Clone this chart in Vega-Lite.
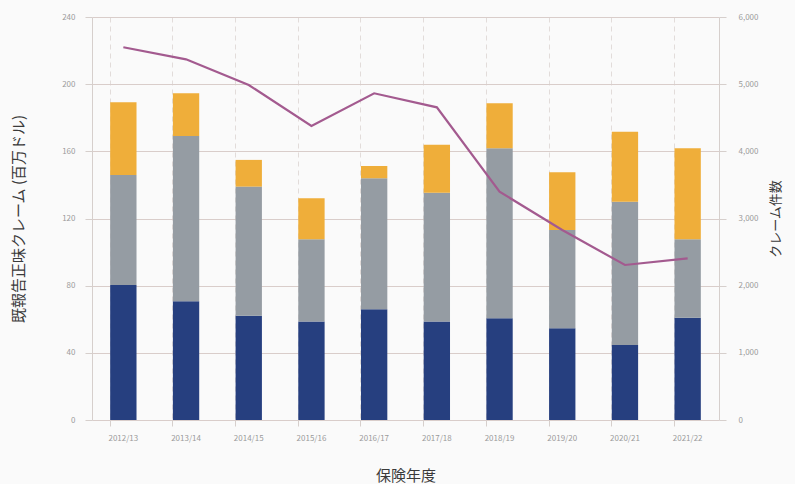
{
  "$schema": "https://vega.github.io/schema/vega-lite/v6.json",
  "autosize": {"type": "none"},
  "width": 627,
  "height": 403,
  "padding": {"left": 92, "top": 17, "right": 76, "bottom": 64},
  "background": "#fafafa",
  "config": {
    "font": "Noto Sans CJK JP",
    "view": {"stroke": null},
    "axis": {"labelColor": "#9a9a9a", "labelFontSize": 8, "titleColor": "#3a3a3a", "titleFontSize": 13, "titleFontWeight": "normal", "domainColor": "#d6cfcc", "tickColor": "#d6cfcc"}
  },
  "datasets": {
    "bars": [
      {"year": "2012/13", "segment": "区分A", "value": 80.4},
      {"year": "2012/13", "segment": "区分B", "value": 65.5},
      {"year": "2012/13", "segment": "区分C", "value": 43.3},
      {"year": "2013/14", "segment": "区分A", "value": 70.7},
      {"year": "2013/14", "segment": "区分B", "value": 98.5},
      {"year": "2013/14", "segment": "区分C", "value": 25.4},
      {"year": "2014/15", "segment": "区分A", "value": 62.1},
      {"year": "2014/15", "segment": "区分B", "value": 76.9},
      {"year": "2014/15", "segment": "区分C", "value": 15.9},
      {"year": "2015/16", "segment": "区分A", "value": 58.6},
      {"year": "2015/16", "segment": "区分B", "value": 49.0},
      {"year": "2015/16", "segment": "区分C", "value": 24.4},
      {"year": "2016/17", "segment": "区分A", "value": 65.9},
      {"year": "2016/17", "segment": "区分B", "value": 78.1},
      {"year": "2016/17", "segment": "区分C", "value": 7.3},
      {"year": "2017/18", "segment": "区分A", "value": 58.6},
      {"year": "2017/18", "segment": "区分B", "value": 76.8},
      {"year": "2017/18", "segment": "区分C", "value": 28.5},
      {"year": "2018/19", "segment": "区分A", "value": 60.6},
      {"year": "2018/19", "segment": "区分B", "value": 101.2},
      {"year": "2018/19", "segment": "区分C", "value": 26.8},
      {"year": "2019/20", "segment": "区分A", "value": 54.6},
      {"year": "2019/20", "segment": "区分B", "value": 58.6},
      {"year": "2019/20", "segment": "区分C", "value": 34.3},
      {"year": "2020/21", "segment": "区分A", "value": 44.7},
      {"year": "2020/21", "segment": "区分B", "value": 85.3},
      {"year": "2020/21", "segment": "区分C", "value": 41.7},
      {"year": "2021/22", "segment": "区分A", "value": 60.9},
      {"year": "2021/22", "segment": "区分B", "value": 46.7},
      {"year": "2021/22", "segment": "区分C", "value": 54.2}
    ],
    "claims": [
      {"year": "2012/13", "count": 5549},
      {"year": "2013/14", "count": 5370},
      {"year": "2014/15", "count": 4988},
      {"year": "2015/16", "count": 4377},
      {"year": "2016/17", "count": 4864},
      {"year": "2017/18", "count": 4655},
      {"year": "2018/19", "count": 3399},
      {"year": "2019/20", "count": 2829},
      {"year": "2020/21", "count": 2308},
      {"year": "2021/22", "count": 2407}
    ]
  },
  "encoding": {
    "x": {
      "field": "year", "type": "nominal", "sort": null,
      "scale": {"paddingInner": 0.58, "paddingOuter": 0.29},
      "axis": {"title": "保険年度", "titleFontSize": 15, "labelAngle": 0, "titlePadding": 26, "labelPadding": 8, "bandPosition": 0, "grid": true, "gridDash": [5, 4], "gridColor": "#e2dcda", "domain": false, "tickSize": 6}
    }
  },
  "layer": [
    {
      "data": {"name": "bars"},
      "mark": {"type": "bar"},
      "encoding": {
        "y": {
          "field": "value", "type": "quantitative", "stack": "zero",
          "scale": {"domain": [0, 240], "nice": false},
          "axis": {"title": "既報告正味クレーム (百万ドル)", "titleFontSize": 15, "values": [0, 40, 80, 120, 160, 200, 240], "gridColor": "#d9cdca", "tickSize": 7, "labelPadding": 10, "titlePadding": 35}
        },
        "color": {
          "field": "segment", "type": "nominal",
          "scale": {"domain": ["区分A", "区分B", "区分C"], "range": ["#263f7f", "#959ca3", "#efae3a"]},
          "legend": null
        },
        "order": {"field": "segment", "sort": "ascending"}
      }
    },
    {
      "data": {"name": "claims"},
      "mark": {"type": "line", "color": "#a35a8f", "strokeWidth": 2.2},
      "encoding": {
        "y": {
          "field": "count", "type": "quantitative",
          "scale": {"domain": [0, 6000], "nice": false},
          "axis": {"title": "クレーム件数", "orient": "right", "values": [0, 1000, 2000, 3000, 4000, 5000, 6000], "format": ",.0f", "grid": false, "titleAngle": 270, "tickSize": 7, "labelPadding": 12, "titlePadding": 25}
        }
      }
    }
  ],
  "resolve": {"scale": {"y": "independent"}}
}
